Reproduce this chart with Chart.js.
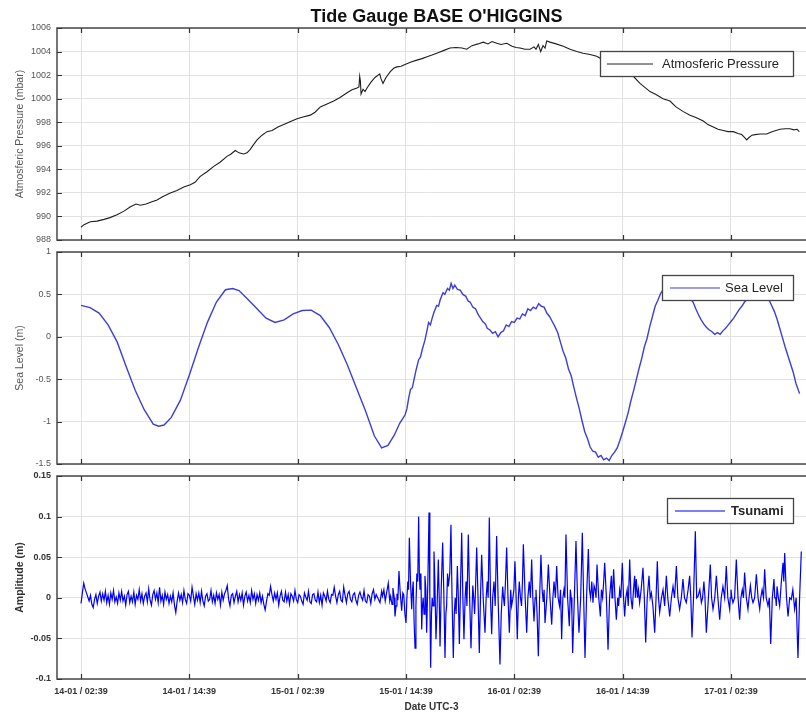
<!DOCTYPE html>
<html><head><meta charset="utf-8">
<script src="https://cdn.jsdelivr.net/npm/chart.js@4.4.0/dist/chart.umd.min.js"></script>
<style>
html,body{margin:0;padding:0;background:#fff;}
#wrap{position:relative;width:806px;height:717px;overflow:hidden;background:#fff;}
canvas{position:absolute;left:0;}
</style></head><body>
<div id="wrap">
<canvas id="c1" width="806" height="245" style="top:0;width:806px;height:245px"></canvas>
<canvas id="c2" width="806" height="222" style="top:245px;width:806px;height:222px"></canvas>
<canvas id="c3" width="806" height="250" style="top:467px;width:806px;height:250px"></canvas>
</div>
<script>
// ---- x axis (hours since 14-01 02:39 UTC-3) ----
const tickHours = [0, 12, 24, 36, 48, 60, 72];
const tickLabels = ['14-01 / 02:39','14-01 / 14:39','15-01 / 02:39','15-01 / 14:39','16-01 / 02:39','16-01 / 14:39','17-01 / 02:39'];

// ---- y ticks ----
const pressureTicks = [988, 990, 992, 994, 996, 998, 1000, 1002, 1004, 1006];
const seaTicks = [-1.5, -1, -0.5, 0, 0.5, 1];
const tsunamiTicks = [-0.1, -0.05, 0, 0.05, 0.1, 0.15];

// ---- Atmospheric pressure [hour, mbar] ----
const pressureSeries = [[0,989.08],[0.33,989.3],[1.03,989.55],[1.77,989.6],[2.55,989.75],[3.21,989.9],[3.99,990.15],[4.76,990.45],[5.43,990.8],[6.09,991.05],[6.57,990.95],[7.2,991.05],[7.86,991.25],[8.42,991.4],[9.08,991.7],[9.89,992.0],[10.63,992.2],[11.38,992.5],[12.11,992.7],[12.63,992.9],[13.21,993.4],[13.96,993.8],[14.7,994.25],[15.4,994.6],[16.17,995.1],[16.62,995.3],[17.09,995.6],[17.5,995.4],[18.02,995.3],[18.39,995.4],[18.75,995.7],[19.11,996.1],[19.5,996.5],[20.05,996.9],[20.6,997.2],[21.16,997.3],[21.82,997.6],[22.45,997.8],[23.15,998.05],[23.93,998.3],[24.59,998.45],[25.4,998.6],[25.92,998.85],[26.51,999.3],[27.25,999.55],[27.99,999.8],[28.69,1000.1],[29.47,1000.5],[30.02,1000.75],[30.57,1000.9],[30.79,1001.0],[30.87,1001.9],[30.95,1001.5],[31.02,1000.4],[31.24,1000.8],[31.46,1000.6],[31.68,1000.9],[32.12,1001.4],[32.57,1001.8],[33.09,1002.1],[33.23,1001.7],[33.45,1001.3],[33.79,1001.8],[34.26,1002.3],[34.67,1002.6],[35.0,1002.7],[35.45,1002.75],[35.89,1002.9],[36.48,1003.1],[37.11,1003.25],[37.77,1003.4],[38.33,1003.55],[38.88,1003.7],[39.55,1003.9],[40.21,1004.1],[40.87,1004.3],[41.54,1004.35],[42.2,1004.3],[42.72,1004.2],[43.31,1004.5],[43.98,1004.65],[44.56,1004.8],[45.08,1004.65],[45.53,1004.85],[46.05,1004.7],[46.52,1004.6],[47.16,1004.7],[47.74,1004.45],[48.19,1004.35],[48.63,1004.3],[49.18,1004.2],[49.74,1004.2],[50.18,1004.4],[50.4,1004.2],[50.66,1004.6],[50.92,1004.0],[51.18,1004.5],[51.4,1004.3],[51.59,1004.9],[51.95,1004.8],[52.62,1004.65],[53.42,1004.45],[54.17,1004.2],[54.91,1004.0],[55.61,1003.85],[56.38,1003.75],[57.12,1003.6],[57.82,1003.3],[58.6,1003.0],[59.37,1002.7],[60.15,1002.4],[61.0,1002.05],[61.92,1001.3],[63.03,1000.6],[63.69,1000.35],[64.47,1000.0],[65.24,999.8],[65.91,999.3],[66.72,998.9],[67.46,998.6],[68.12,998.4],[68.93,998.1],[69.45,997.8],[70.04,997.6],[70.56,997.4],[71.15,997.3],[71.67,997.2],[72.26,997.2],[72.78,997.05],[73.19,996.95],[73.44,996.75],[73.74,996.5],[74.0,996.7],[74.33,996.9],[74.66,996.95],[75.21,997.0],[75.96,997.0],[76.54,997.2],[76.98,997.3],[77.43,997.4],[77.98,997.45],[78.54,997.45],[78.98,997.35],[79.31,997.4],[79.57,997.2]];

// ---- Sea level [hour, m] ----
const seaSeries = [[0,0.37],[1,0.345],[2,0.28],[3,0.14],[4,-0.06],[5,-0.35],[6,-0.63],[7,-0.86],[8,-1.03],[8.6,-1.055],[9.2,-1.04],[10,-0.95],[11,-0.75],[12,-0.45],[13,-0.13],[14,0.17],[15,0.41],[16,0.555],[16.8,0.57],[17.5,0.545],[18.5,0.44],[19.5,0.33],[20.5,0.22],[21.5,0.17],[22.5,0.2],[23.5,0.27],[24.5,0.31],[25.5,0.315],[26.5,0.25],[27.5,0.11],[28.5,-0.09],[29.5,-0.33],[30.5,-0.6],[31.5,-0.87],[32.5,-1.17],[33.3,-1.31],[34,-1.28],[34.7,-1.16],[35.3,-1.02],
[35.6,-0.97],[35.9,-0.92],[36.1,-0.85],[36.3,-0.72],[36.5,-0.62],[36.7,-0.60],[36.9,-0.50],[37.1,-0.40],[37.4,-0.27],[37.6,-0.24],[37.8,-0.15],[38.1,-0.04],[38.3,0.06],[38.5,0.17],[38.7,0.14],[38.9,0.22],[39.1,0.29],[39.4,0.37],[39.6,0.36],[39.8,0.44],[40.1,0.52],[40.3,0.50],[40.6,0.57],[40.8,0.55],[41.0,0.63],[41.2,0.57],[41.4,0.61],[41.7,0.56],[42.0,0.55],[42.3,0.50],[42.6,0.48],[42.9,0.42],[43.1,0.41],[43.4,0.35],[43.7,0.33],[44.0,0.26],[44.2,0.23],[44.5,0.18],[44.8,0.15],[45.0,0.10],[45.3,0.08],[45.6,0.04],[45.9,0.06],[46.2,0.00],[46.5,0.05],[46.8,0.07],[47.1,0.14],[47.4,0.12],[47.7,0.18],[48.0,0.17],[48.3,0.22],[48.6,0.21],[48.9,0.27],[49.2,0.25],[49.5,0.33],[49.8,0.31],[50.1,0.35],[50.4,0.33],[50.7,0.39],[51.0,0.36],[51.3,0.35],[51.6,0.28],[51.9,0.24],[52.2,0.18],[52.5,0.12],[52.8,0.05],[53.1,-0.06],[53.4,-0.17],[53.7,-0.25],[54.0,-0.38],[54.3,-0.46],[54.6,-0.60],[54.9,-0.73],[55.2,-0.85],[55.5,-0.99],[55.8,-1.12],[56.1,-1.20],[56.4,-1.30],[56.7,-1.35],[57.0,-1.36],[57.3,-1.42],[57.6,-1.40],[57.9,-1.45],[58.2,-1.43],[58.5,-1.46],[58.8,-1.40],[59.1,-1.36],[59.4,-1.31],[59.7,-1.22],[60.0,-1.12],[60.3,-1.01],[60.6,-0.90],[60.9,-0.76],[61.2,-0.64],[61.5,-0.51],[61.8,-0.38],[62.1,-0.26],[62.4,-0.12],[62.7,-0.02],[63.0,0.12],[63.3,0.24],[63.6,0.36],[63.9,0.43],[64.2,0.51],[64.5,0.56],[64.8,0.60],[65.1,0.63],[65.4,0.64],[65.7,0.62],[66.0,0.63],[66.3,0.60],[66.6,0.57],[66.9,0.53],[67.2,0.50],[67.5,0.45],[67.8,0.41],[68.1,0.33],[68.4,0.26],[68.7,0.20],[69.0,0.15],[69.3,0.11],[69.6,0.08],[69.9,0.06],[70.2,0.03],[70.5,0.05],[70.8,0.03],[71.1,0.07],[71.4,0.10],[71.7,0.14],[72.0,0.18],[72.3,0.22],[72.6,0.27],[72.9,0.32],[73.2,0.36],[73.5,0.41],[73.8,0.44],[74.1,0.48],[74.4,0.51],[74.7,0.53],[75.0,0.55],[75.3,0.56],[75.6,0.54],[75.9,0.50],[76.2,0.44],[76.5,0.37],[76.8,0.30],[77.1,0.21],[77.4,0.10],[77.7,-0.01],[78.0,-0.12],[78.3,-0.22],[78.6,-0.32],[78.9,-0.42],[79.2,-0.55],[79.6,-0.67]];

// ---- Tsunami residual, quiet part sampled every 0.15 h from hour 0 ----
const tsunamiQuietStep = 0.15;
const tsunamiQuiet = [
-0.007,0.006,0.018,0.011,0.006,0.001,-0.004,0.003,-0.008,-0.012,-0.002,0.004,-0.007,0.002,0.007,-0.004,0.005,-0.003,0.008,-0.006,
0.003,-0.008,0.006,-0.002,0.009,-0.005,0.001,-0.007,0.006,-0.003,0.008,-0.004,0.002,-0.009,0.004,0.008,-0.006,0.002,-0.005,0.007,
-0.008,0.003,-0.002,0.010,-0.004,0.005,-0.007,0.002,0.006,-0.005,0.011,-0.003,-0.009,0.004,0.009,-0.002,0.006,-0.006,0.013,-0.004,
0.003,-0.008,0.007,-0.002,0.004,-0.007,0.002,-0.005,0.006,-0.009,-0.018,-0.004,0.006,-0.003,0.004,-0.006,0.009,-0.002,-0.007,0.005,
0.003,-0.004,0.013,0.002,-0.008,0.005,-0.003,0.006,-0.006,0.008,-0.004,-0.010,0.002,0.005,-0.004,-0.002,0.009,-0.005,0.003,-0.007,
0.006,-0.002,0.004,-0.009,0.007,-0.003,0.005,0.009,0.015,-0.002,-0.010,0.003,0.005,-0.006,0.002,0.008,-0.005,0.004,-0.003,0.006,
-0.009,0.002,0.007,-0.004,0.003,-0.006,0.009,-0.002,0.005,-0.007,0.004,-0.003,0.006,-0.006,0.002,-0.008,-0.015,-0.004,0.005,0.003,
0.014,0.004,-0.004,0.006,-0.002,0.006,-0.009,0.002,0.008,-0.003,-0.005,0.007,-0.004,0.004,-0.008,0.005,0.002,-0.004,0.009,-0.002,
-0.006,0.004,0.002,-0.004,-0.008,0.006,0.001,-0.003,0.008,-0.005,-0.007,0.004,0.005,-0.003,-0.005,0.007,-0.006,0.003,-0.009,0.006,
0.002,-0.004,0.008,-0.002,-0.006,0.004,0.003,0.013,0.002,-0.006,0.004,0.008,-0.003,-0.005,0.013,0.003,-0.006,0.005,0.008,-0.002,
-0.005,0.004,0.006,-0.003,-0.008,0.003,0.007,0.001,-0.003,0.009,-0.004,-0.006,0.004,0.002,-0.007,0.005,0.010,-0.002,0.004];
// ---- Tsunami residual, active part [hour, m] ----
const tsunamiActive = [[33.12,-0.006],[33.3,0.008],[33.4,0.002],[33.55,0.01],[33.7,-0.004],[33.85,0.006],[34.04,0.018],[34.2,-0.004],[34.3,0.002],[34.45,-0.008],[34.55,0.012],[34.7,0.0],[34.78,-0.023],[34.9,-0.01],[35.0,0.005],[35.1,-0.003],[35.22,0.033],[35.35,0.008],[35.52,-0.016],[35.65,0.006],[35.75,0.004],[35.88,-0.02],[36.0,-0.031],[36.1,0.0],[36.2,0.02],[36.28,0.01],[36.37,0.074],[36.5,0.02],[36.63,-0.014],[36.72,0.01],[36.8,0.02],[36.9,-0.03],[37.0,-0.062],[37.1,-0.01],[37.2,0.03],[37.3,0.02],[37.4,0.1],[37.48,0.03],[37.55,0.01],[37.65,0.03],[37.74,-0.039],[37.82,-0.01],[37.9,0.0],[38.0,-0.02],[38.1,0.027],[38.2,0.01],[38.29,-0.043],[38.42,0.02],[38.55,0.105],[38.64,0.0],[38.73,-0.086],[38.82,-0.02],[38.9,0.0],[39.0,-0.01],[39.1,0.057],[39.2,0.02],[39.32,-0.051],[39.45,-0.01],[39.58,0.047],[39.68,0.0],[39.77,-0.06],[39.9,0.01],[40.06,0.068],[40.2,0.0],[40.32,-0.074],[40.42,-0.02],[40.5,-0.01],[40.6,0.03],[40.69,0.014],[40.85,0.03],[40.98,0.09],[41.1,0.0],[41.24,-0.074],[41.35,-0.02],[41.45,0.0],[41.55,-0.02],[41.69,0.039],[41.8,0.0],[41.91,-0.057],[42.05,0.02],[42.17,0.08],[42.3,0.0],[42.42,-0.051],[42.55,0.0],[42.65,0.02],[42.75,-0.01],[42.9,0.078],[43.05,0.0],[43.2,-0.062],[43.3,-0.02],[43.4,0.015],[43.5,0.0],[43.6,-0.02],[43.7,0.01],[43.83,0.062],[43.98,0.0],[44.12,-0.068],[44.25,0.0],[44.38,0.053],[44.55,0.0],[44.75,-0.043],[44.88,0.0],[45.0,0.02],[45.1,0.0],[45.23,0.099],[45.36,0.0],[45.49,-0.045],[45.6,0.0],[45.75,0.02],[45.88,-0.01],[46.04,0.076],[46.2,0.0],[46.41,-0.082],[46.55,-0.02],[46.71,0.014],[46.8,0.0],[46.9,-0.01],[47.02,0.02],[47.15,0.062],[47.3,0.0],[47.45,-0.043],[47.6,0.01],[47.7,-0.01],[47.82,-0.002],[47.95,0.01],[48.07,0.045],[48.2,0.0],[48.33,-0.051],[48.45,0.0],[48.55,0.02],[48.68,0.0],[48.8,-0.01],[48.9,0.02],[49.0,0.066],[49.2,0.0],[49.37,-0.043],[49.5,0.0],[49.65,0.02],[49.78,0.0],[49.92,0.047],[50.05,0.0],[50.18,-0.029],[50.3,0.0],[50.4,0.01],[50.52,-0.02],[50.66,-0.072],[50.8,0.0],[50.95,0.053],[51.08,0.01],[51.2,-0.005],[51.3,0.01],[51.4,-0.031],[51.6,0.0],[51.77,0.041],[51.95,0.0],[52.14,-0.033],[52.27,0.0],[52.4,0.02],[52.55,0.0],[52.69,0.039],[52.85,0.0],[53.0,-0.01],[53.12,0.01],[53.24,-0.051],[53.38,0.0],[53.5,0.01],[53.6,0.0],[53.72,0.078],[53.9,0.0],[54.09,-0.035],[54.2,0.01],[54.3,0.0],[54.38,-0.02],[54.46,-0.068],[54.65,0.0],[54.83,0.07],[55.0,0.0],[55.16,-0.043],[55.35,0.0],[55.53,0.08],[55.68,0.0],[55.83,-0.074],[56.0,0.0],[56.2,0.06],[56.32,0.01],[56.45,0.0],[56.58,0.02],[56.71,-0.006],[56.83,0.015],[56.95,0.01],[57.05,0.0],[57.16,0.041],[57.35,0.0],[57.53,-0.023],[57.65,0.01],[57.78,0.0],[57.9,0.02],[58.01,0.043],[58.2,0.0],[58.38,-0.064],[58.55,0.0],[58.75,0.027],[58.82,0.0],[58.9,0.01],[59.0,0.035],[59.15,0.0],[59.3,-0.027],[59.45,0.0],[59.55,-0.01],[59.67,0.01],[59.8,0.0],[59.96,0.043],[60.1,0.0],[60.22,-0.023],[60.35,0.0],[60.5,0.01],[60.62,-0.01],[60.78,0.047],[60.92,0.0],[61.07,-0.014],[61.2,0.01],[61.33,0.027],[61.42,0.0],[61.51,0.023],[61.65,0.0],[61.75,0.01],[61.88,-0.006],[62.05,0.01],[62.25,0.037],[62.4,0.0],[62.55,-0.055],[62.72,0.0],[62.92,0.027],[63.05,0.0],[63.18,0.006],[63.35,-0.01],[63.55,-0.043],[63.7,0.0],[63.84,0.045],[63.97,0.0],[64.1,-0.018],[64.3,0.0],[64.47,0.01],[64.65,-0.01],[64.84,0.027],[65.0,0.0],[65.21,-0.023],[65.4,0.0],[65.58,0.014],[65.75,0.0],[65.95,0.039],[66.12,0.0],[66.31,-0.014],[66.5,0.0],[66.68,0.023],[66.85,0.0],[67.05,-0.006],[67.25,0.01],[67.42,0.027],[67.55,0.0],[67.68,-0.049],[67.85,0.0],[68.05,0.082],[68.2,0.0],[68.35,0.002],[68.55,0.01],[68.72,-0.006],[68.85,0.0],[69.0,0.02],[69.12,0.0],[69.27,-0.043],[69.5,0.0],[69.71,0.041],[69.85,0.0],[70.01,-0.014],[70.2,0.0],[70.38,0.027],[70.55,0.0],[70.75,-0.027],[70.92,0.0],[71.11,0.014],[71.3,0.0],[71.48,0.039],[71.65,0.0],[71.85,-0.014],[71.92,0.0],[72.0,0.01],[72.1,0.0],[72.22,-0.006],[72.4,0.0],[72.59,0.047],[72.78,0.0],[72.96,-0.027],[73.1,0.0],[73.25,0.01],[73.38,0.0],[73.51,0.031],[73.7,0.0],[73.88,-0.014],[74.0,0.0],[74.15,0.015],[74.3,0.0],[74.44,-0.006],[74.62,0.0],[74.81,0.029],[75.0,0.0],[75.18,-0.014],[75.3,0.0],[75.45,0.01],[75.6,0.0],[75.73,0.035],[75.9,0.0],[76.1,-0.01],[76.25,0.0],[76.4,-0.057],[76.58,0.0],[76.76,0.023],[76.85,0.0],[76.95,0.0],[77.02,-0.01],[77.1,0.014],[77.25,0.0],[77.39,-0.01],[77.58,0.02],[77.76,0.043],[77.85,0.02],[77.95,0.055],[78.15,0.0],[78.32,-0.023],[78.5,0.0],[78.68,-0.002],[78.85,0.01],[79.05,-0.014],[79.22,0.0],[79.42,-0.074],[79.6,0.0],[79.79,0.057]];

const FONT = '"Liberation Sans", Arial, Helvetica, sans-serif';
const X_MIN = -2.66, X_MAX = 80.31;

const framePlugin = {
  id: 'frame',
  afterDatasetsDraw(chart, args, o) {
    const L = o.legend; if (!L) return;
    const ctx = chart.ctx;
    ctx.save();
    ctx.fillStyle = '#fff';
    ctx.fillRect(L.x, L.y, L.w, L.h);
    ctx.strokeStyle = '#444'; ctx.lineWidth = 1.3;
    ctx.strokeRect(L.x + 0.5, L.y + 0.5, L.w, L.h);
    const my = L.y + L.h / 2 + 0.5;
    ctx.strokeStyle = L.color; ctx.lineWidth = L.lw;
    ctx.beginPath(); ctx.moveTo(L.x + L.l1, my); ctx.lineTo(L.x + L.l2, my); ctx.stroke();
    ctx.fillStyle = '#262626';
    ctx.font = (L.bold ? 'bold ' : '') + '13px ' + FONT;
    ctx.textBaseline = 'middle'; ctx.textAlign = 'left';
    ctx.fillText(L.text, L.x + L.tx, my + 0.5);
    ctx.restore();
  },
  afterDraw(chart, args, o) {
    const ctx = chart.ctx;
    const {left, top, right, bottom} = chart.chartArea;
    ctx.save();
    ctx.strokeStyle = '#4a4a4a'; ctx.lineWidth = 1.5;
    ctx.beginPath();
    ctx.moveTo(right + 2, top); ctx.lineTo(left, top); ctx.lineTo(left, bottom); ctx.lineTo(right + 2, bottom);
    ctx.stroke();
    ctx.lineWidth = 1.2; ctx.strokeStyle = '#333';
    const xs = chart.scales.x, ys = chart.scales.y;
    ctx.beginPath();
    xs.ticks.forEach(t => {
      const px = Math.round(xs.getPixelForValue(t.value)) + 0.5;
      ctx.moveTo(px, bottom); ctx.lineTo(px, bottom - 5);
      ctx.moveTo(px, top); ctx.lineTo(px, top + 5);
    });
    ys.ticks.forEach(t => {
      const py = Math.round(ys.getPixelForValue(t.value)) + 0.5;
      ctx.moveTo(left, py); ctx.lineTo(left + 5, py);
    });
    ctx.stroke();
    if (o.title) {
      ctx.fillStyle = '#111';
      ctx.font = 'bold 18px ' + FONT;
      ctx.textAlign = 'center'; ctx.textBaseline = 'middle';
      ctx.fillText(o.title, 436.5, 17);
    }
    ctx.restore();
  }
};

function makeChart(id, cfg) {
  const grid = {color: '#e2e2e2', lineWidth: 1, drawTicks: false};
  return new Chart(document.getElementById(id), {
    type: 'line',
    data: {datasets: [{
      data: cfg.data, borderColor: cfg.color, borderWidth: cfg.lw,
      pointRadius: 0, tension: 0, fill: false
    }]},
    options: {
      responsive: false, animation: false, devicePixelRatio: 1,
      layout: {padding: {top: cfg.padTop, left: 0, right: 0, bottom: 0}},
      plugins: {legend: {display: false}, tooltip: {enabled: false}, title: {display: false},
        frame: {legend: cfg.legend, title: cfg.title}},
      scales: {
        x: {
          type: 'linear', min: X_MIN, max: X_MAX,
          afterBuildTicks: s => { s.ticks = tickHours.map(v => ({value: v})); },
          afterFit: s => { s.height = cfg.xh; s.paddingLeft = 0; s.paddingRight = 0; },
          grid: grid, border: {display: false},
          ticks: {display: cfg.xLabels, autoSkip: false, maxRotation: 0, padding: 7,
            color: '#333', font: {family: FONT, size: 9, weight: 'bold'},
            callback: v => tickLabels[tickHours.indexOf(v)]},
          title: {display: cfg.xLabels, text: 'Date UTC-3', color: '#333',
            font: {family: FONT, size: 10, weight: 'bold'}, padding: {top: 0, bottom: 4}}
        },
        y: {
          min: cfg.yTicks[0], max: cfg.yTicks[cfg.yTicks.length - 1],
          afterBuildTicks: s => { s.ticks = cfg.yTicks.map(v => ({value: v})); },
          afterFit: s => { s.width = 57; s.paddingTop = 0; s.paddingBottom = 0; },
          grid: grid, border: {display: false},
          ticks: {padding: 6, color: cfg.yTickColor, font: {family: FONT, size: 9, weight: cfg.yBold ? 'bold' : 'normal'},
            callback: v => String(v)},
          title: {display: true, text: cfg.yTitle, color: cfg.yTitleColor,
            font: {family: FONT, size: cfg.yTitleSize, weight: cfg.yBold ? 'bold' : 'normal'}, padding: {top: 14, bottom: 0}}
        }
      }
    },
    plugins: [framePlugin]
  });
}

const toXY = arr => arr.map(p => ({x: p[0], y: p[1]}));
const tsunamiData = tsunamiQuiet.map((v, i) => ({x: i * tsunamiQuietStep, y: v})).concat(toXY(tsunamiActive));

makeChart('c1', {
  data: toXY(pressureSeries), color: '#1e1e1e', lw: 1.1,
  padTop: 28, xh: 5, xLabels: false,
  yTicks: pressureTicks, yTitle: 'Atmosferic Pressure (mbar)', yTitleColor: '#555', yTitleSize: 10.5,
  yTickColor: '#555', yBold: false, title: "Tide Gauge BASE O'HIGGINS",
  legend: {x: 600, y: 51, w: 193, h: 25, l1: 7, l2: 53, tx: 62, text: 'Atmosferic Pressure', color: '#222', lw: 1}
});
makeChart('c2', {
  data: toXY(seaSeries), color: 'rgb(62,62,215)', lw: 1.4,
  padTop: 7, xh: 3, xLabels: false,
  yTicks: seaTicks, yTitle: 'Sea Level (m)', yTitleColor: '#555', yTitleSize: 10.5,
  yTickColor: '#555', yBold: false,
  legend: {x: 662, y: 30, w: 131, h: 25, l1: 8, l2: 58, tx: 63, text: 'Sea Level', color: 'rgb(62,62,215)', lw: 1.2}
});
makeChart('c3', {
  data: tsunamiData, color: '#0000f5', lw: 1.2,
  padTop: 9, xh: 38, xLabels: true,
  yTicks: tsunamiTicks, yTitle: 'Amplitude (m)', yTitleColor: '#333', yTitleSize: 10.5,
  yTickColor: '#333', yBold: true,
  legend: {x: 667, y: 31, w: 126, h: 25, l1: 8, l2: 58, tx: 64, text: 'Tsunami', color: '#0000f5', lw: 1.2, bold: true}
});
</script>
</body></html>
